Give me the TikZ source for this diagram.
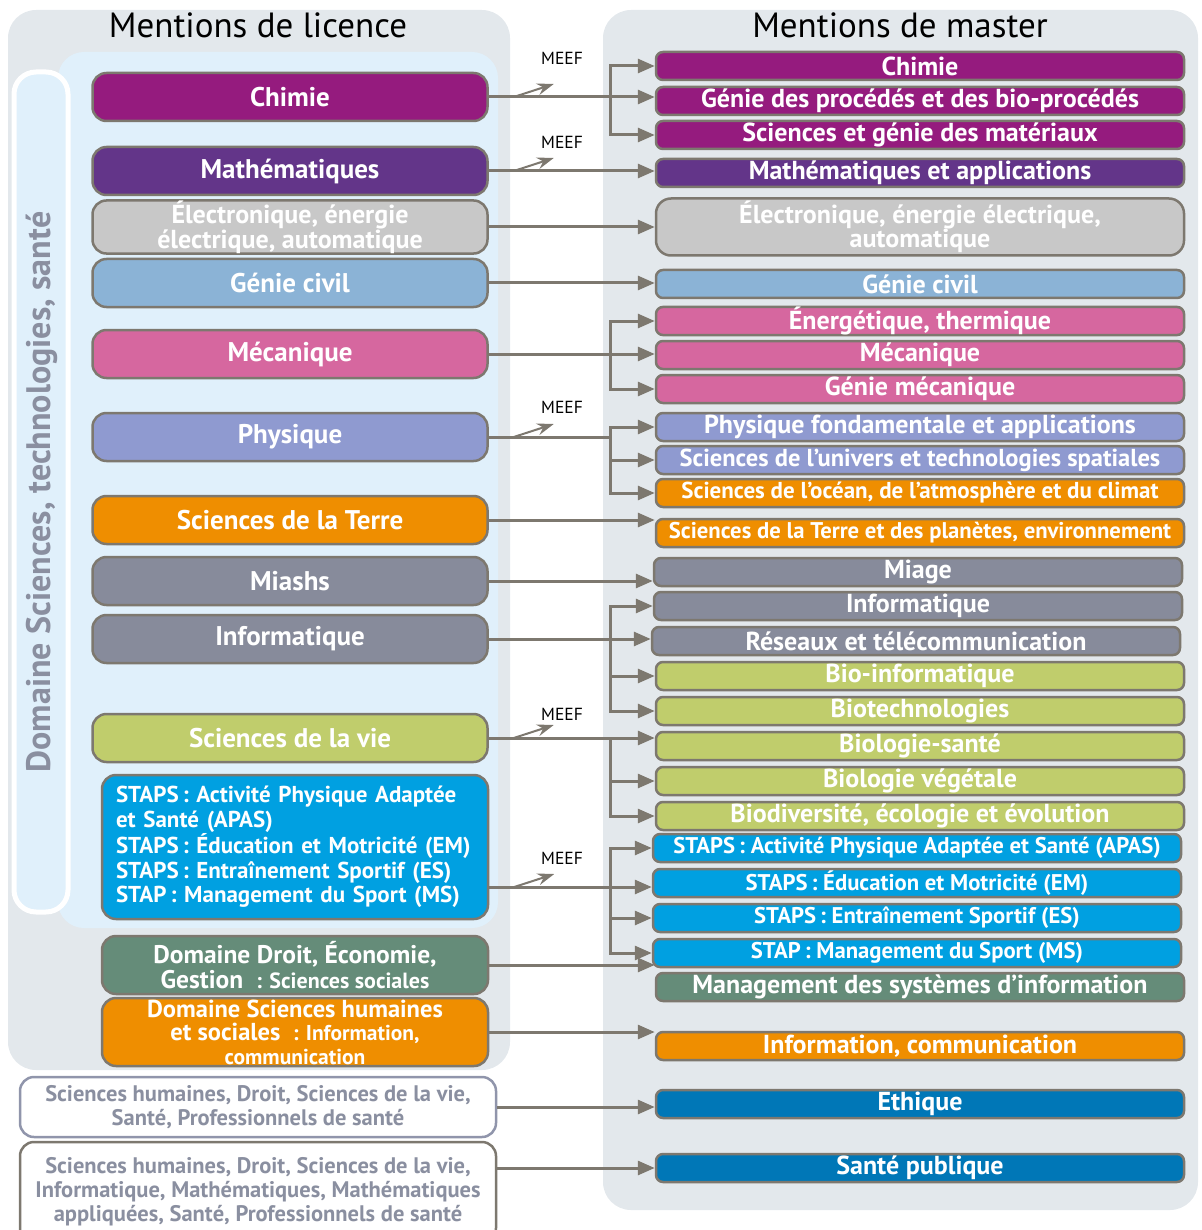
\documentclass[tikz,border=0pt]{standalone}
\usepackage{fontspec}
\setmainfont{PT Sans}
\usetikzlibrary{arrows.meta,calc}

\definecolor{panelc}{RGB}{227,232,236}
\definecolor{innerc}{RGB}{224,240,251}
\definecolor{edgec}{RGB}{125,120,111}
\definecolor{domc}{RGB}{138,143,160}
\definecolor{chimc}{RGB}{149,27,126}
\definecolor{mathc}{RGB}{99,53,137}
\definecolor{elecc}{RGB}{200,200,200}
\definecolor{civc}{RGB}{139,179,214}
\definecolor{mecac}{RGB}{214,103,159}
\definecolor{physc}{RGB}{143,154,208}
\definecolor{terrec}{RGB}{239,142,0}
\definecolor{infoc}{RGB}{135,139,155}
\definecolor{viec}{RGB}{192,205,108}
\definecolor{stapsc}{RGB}{0,160,225}
\definecolor{droitc}{RGB}{101,140,121}
\definecolor{santec}{RGB}{0,119,183}
\definecolor{sh1c}{RGB}{144,149,171}

\newcommand{\fsz}[1]{\fontsize{#1}{#1}\selectfont\bfseries}

\begin{document}
\begin{tikzpicture}[x=1pt,y=-1pt,
    lic/.style={draw=edgec, line width=2.5pt, rounded corners=14pt,
      minimum width=395pt, minimum height=48pt, inner sep=0pt,
      text=white, align=center, font=\fsz{27}},
    mas/.style={draw=edgec, line width=2.5pt, rounded corners=7pt,
      minimum width=528pt, minimum height=28pt, inner sep=0pt,
      text=white, align=center, font=\fsz{26}},
    other/.style={lic, fill=white, text=domc, minimum width=476pt,
      font=\fontsize{22.5}{24}\selectfont\bfseries},
    arr/.style={draw=edgec, line width=3pt,
      -{Triangle[length=17pt,width=14pt]}},
    meef/.style={draw=edgec, line width=2pt,
      -{Stealth[length=17pt,width=12pt,inset=6pt]}},
    meeflabel/.style={font=\fontsize{17.5}{17.5}\selectfont, inner sep=0pt}]
  \useasboundingbox (0,0) rectangle (1201,1230);

  % panels
  \fill[panelc, rounded corners=28pt] (8,10) rectangle (510,1070);
  \fill[panelc, rounded corners=28pt] (603,10) rectangle (1198,1210);
  \fill[innerc, rounded corners=26pt] (58,52) rectangle (498,928);
  \draw[white, fill=innerc, line width=5pt, rounded corners=22pt]
    (14,72) rectangle (68,912);
  \node(domsci)[rotate=90, text=domc, font=\fsz{34}] at (42,492)
    {Domaine Sciences, technologies, santé};
  \node(tlic)[font=\fontsize{35}{35}\selectfont] at (258,25) {Mentions de licence};
  \node(tmas)[font=\fontsize{35}{35}\selectfont] at (900,25) {Mentions de master};

  % Mentions de licence
  \node(lchim) [lic, fill=chimc]  at (290,97)  {Chimie};
  \node(lmath) [lic, fill=mathc]  at (290,171) {Mathématiques};
  \node(lelec) [lic, fill=elecc, font=\fontsize{26}{23.5}\selectfont\bfseries]
    at (290,227) {Électronique, énergie\\électrique, automatique};
  \node(lciv)  [lic, fill=civc]   at (290,283) {Génie civil};
  \node(lmeca) [lic, fill=mecac]  at (290,354) {Mécanique};
  \node(lphys) [lic, fill=physc]  at (290,437) {Physique};
  \node(lterre)[lic, fill=terrec] at (290,520) {Sciences de la Terre};
  \node(lmiash)[lic, fill=infoc]  at (290,581) {Miashs};
  \node(linfo) [lic, fill=infoc]  at (290,639) {Informatique};
  \node(lvie)  [lic, fill=viec]   at (290,738) {Sciences de la vie};
  \node(lstaps)[lic, fill=stapsc, minimum width=386pt, minimum height=144pt,
    text width=358pt, inner xsep=14pt, align=left,
    font=\fontsize{23}{24.5}\selectfont\bfseries] at (295,847)
    {STAPS\,: Activité Physique Adaptée\\et Santé (APAS)\\
     STAPS\,: Éducation et Motricité (EM)\\
     STAPS\,: Entraînement Sportif (ES)\\
     STAP\,: Management du Sport (MS)};
  \node(ldroit)[lic, fill=droitc, minimum width=386pt, minimum height=58pt,
    font=\fontsize{25.5}{24.5}\selectfont\bfseries] at (295,965)
    {Domaine Droit, Économie,\\Gestion\ \ {\fsz{22}: Sciences sociales}};
  \node(lshs)  [lic, fill=terrec, minimum width=386pt, minimum height=68pt,
    font=\fontsize{24.5}{23.5}\selectfont\bfseries] at (295,1032)
    {Domaine Sciences humaines\\et sociales\ \ {\fsz{21.5}: Information,}\\
     {\fsz{21.5}communication}};
  \node(lsh1)[other, draw=sh1c, minimum height=60pt] at (258,1107)
    {Sciences humaines, Droit, Sciences de la vie,\\
     Santé, Professionnels de santé};
  \node(lsh2)[other, minimum height=100pt] at (258,1192)
    {Sciences humaines, Droit, Sciences de la vie,\\
     Informatique, Mathématiques, Mathématiques\\
     appliquées, Santé, Professionnels de santé};

  % Mentions de master
  \node(mchim)  [mas, fill=chimc]  at (920,66)  {Chimie};
  \node(mgpro)  [mas, fill=chimc]  at (920,101) {Génie des procédés et des bio-procédés};
  \node(msgm)   [mas, fill=chimc]  at (920,135) {Sciences et génie des matériaux};
  \node(mmath)  [mas, fill=mathc]  at (920,173) {Mathématiques et applications};
  \node(melec)  [mas, fill=elecc, minimum height=57pt, rounded corners=15pt,
    font=\fontsize{26}{24}\selectfont\bfseries] at (920,227)
    {Électronique, énergie électrique,\\automatique};
  \node(mciv)   [mas, fill=civc]   at (920,284) {Génie civil};
  \node(menerg) [mas, fill=mecac]  at (920,321) {Énergétique, thermique};
  \node(mmeca)  [mas, fill=mecac]  at (920,355) {Mécanique};
  \node(mgmeca) [mas, fill=mecac]  at (920,389) {Génie mécanique};
  \node(mphys)  [mas, fill=physc]  at (920,427) {Physique fondamentale et applications};
  \node(muniv)  [mas, fill=physc, font=\fsz{24.5}] at (920,460)
    {Sciences de l’univers et technologies spatiales};
  \node(mocean) [mas, fill=terrec, font=\fsz{23}] at (920,493)
    {Sciences de l’océan, de l’atmosphère et du climat};
  \node(mterre) [mas, fill=terrec, font=\fsz{22.7}] at (920,533)
    {Sciences de la Terre et des planètes, environnement};
  \node(mmiage) [mas, fill=infoc]  at (918,572) {Miage};
  \node(minfo)  [mas, fill=infoc]  at (918,606) {Informatique};
  \node(mres)   [mas, fill=infoc]  at (916,641) {Réseaux et télécommunication};
  \node(mbinf)  [mas, fill=viec]   at (920,676) {Bio-informatique};
  \node(mbtech) [mas, fill=viec]   at (920,711) {Biotechnologies};
  \node(mbsan)  [mas, fill=viec]   at (920,746) {Biologie-santé};
  \node(mbveg)  [mas, fill=viec]   at (920,781) {Biologie végétale};
  \node(mbdiv)  [mas, fill=viec]   at (920,816) {Biodiversité, écologie et évolution};
  \node(mapas)  [mas, fill=stapsc, font=\fsz{22.7}] at (917,848)
    {STAPS\,: Activité Physique Adaptée et Santé (APAS)};
  \node(mem)    [mas, fill=stapsc, font=\fsz{22.7}] at (917,883)
    {STAPS\,: Éducation et Motricité (EM)};
  \node(mes)    [mas, fill=stapsc, font=\fsz{22.7}] at (917,918)
    {STAPS\,: Entraînement Sportif (ES)};
  \node(mms)    [mas, fill=stapsc, font=\fsz{22.7}] at (917,953)
    {STAP\,: Management du Sport (MS)};
  \node(mmsi)   [mas, fill=droitc] at (920,987) {Management des systèmes d’information};
  \node(mcom)   [mas, fill=terrec] at (920,1046) {Information, communication};
  \node(methi)  [mas, fill=santec] at (920,1104) {Ethique};
  \node(msante) [mas, fill=santec] at (920,1168) {Santé publique};

  % connectors
  \coordinate (bx) at (610,0);
  \coordinate (lstapsout) at ($(lstaps.east)+(0,40)$);
  \draw[arr] (lchim.east) -- (lchim.east -| mgpro.west);
  \draw[arr] (lchim.east -| bx) |- (mchim.west);
  \draw[arr] (lchim.east -| bx) |- (msgm.west);
  \draw[arr] (lmath.east) -- (lmath.east -| mmath.west);
  \draw[arr] (lelec.east) -- (lelec.east -| melec.west);
  \draw[arr] (lciv.east) -- (lciv.east -| mciv.west);
  \draw[arr] (lmeca.east) -- (lmeca.east -| mmeca.west);
  \draw[arr] (lmeca.east -| bx) |- (menerg.west);
  \draw[arr] (lmeca.east -| bx) |- (mgmeca.west);
  \draw[edgec, line width=3pt] (lphys.east) -- (lphys.east -| bx);
  \draw[arr] (lphys.east -| bx) |- (mphys.west);
  \draw[arr] (lphys.east -| bx) |- (muniv.west);
  \draw[arr] (lphys.east -| bx) |- (mocean.west);
  \draw[arr] (lterre.east) -- (lterre.east -| mterre.west);
  \draw[arr] (lmiash.east) -- (lmiash.east -| mmiage.west);
  \draw[arr] (linfo.east) -- (linfo.east -| mres.west);
  \draw[arr] (linfo.east -| bx) |- (minfo.west);
  \draw[arr] (linfo.east -| bx) |- (mbinf.west);
  \draw[arr] (linfo.east -| bx) |- (mbtech.west);
  \draw[arr] (lvie.east) -- (lvie.east -| mbsan.west);
  \draw[arr] (lvie.east -| bx) |- (mbveg.west);
  \draw[arr] (lvie.east -| bx) |- (mbdiv.west);
  \draw[arr] (lstapsout) -- (lstapsout -| mem.west);
  \draw[arr] (lstapsout -| bx) |- (mapas.west);
  \draw[arr] (lstapsout -| bx) |- (mes.west);
  \draw[arr] (lstapsout -| bx) |- (mms.west);
  \draw[arr] (ldroit.east) -- (ldroit.east -| mmsi.west);
  \draw[arr] (lshs.east) -- (lshs.east -| mcom.west);
  \draw[arr] (lsh1.east) -- (lsh1.east -| methi.west);
  \draw[arr] (lsh2.east |- msante.west) -- (msante.west);

  % MEEF
  \foreach \n/\src/\y in {chim/lchim.east/58, math/lmath.east/142,
      phys/lphys.east/407, vie/lvie.east/714, staps/lstapsout/858} {
    \node(meef\n)[meeflabel] at (562,\y) {MEEF};
    \coordinate (tip\n) at ($(\src)+(65,-13)$);
    \draw[meef] ($(\src)+(25,0)$) -- (tip\n);
  }
\end{tikzpicture}
\end{document}
